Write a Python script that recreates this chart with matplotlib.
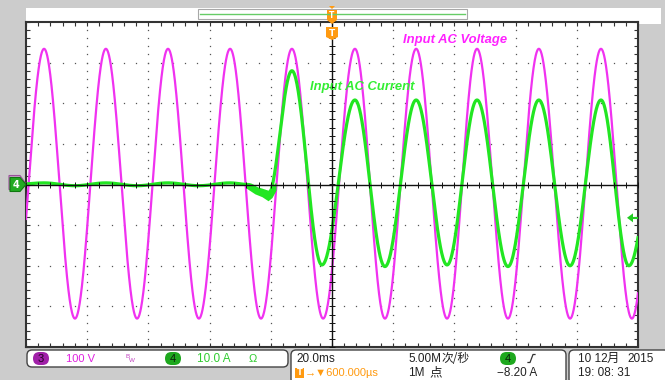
import numpy as np
import matplotlib.pyplot as plt
from matplotlib.patches import FancyBboxPatch, Polygon, Rectangle

# scope settings
ms_div = 20.0
volts_div = 100.0
amps_div = 10.0
trig_level = -8.20

# voltage trace: time of each peak / trough (ms) and value there (V)
volt_t = [-104.2, -94.1, -84.0, -73.9, -63.7, -53.6, -43.5, -33.3, -23.2, -13.1,
          -2.9, 7.5, 17.3, 27.5, 37.6, 47.4, 57.5, 67.6, 77.8, 87.9, 98.0, 108.1]
volt_v = [-330, 334, -330, 334, -330, 334, -330, 334, -330, 334,
          -330, 334, -330, 334, -330, 334, -330, 334, -330, 334, -330, 334]

# current trace: extremes (ms, A)
curr_t = [-104.2, -94.1, -84.0, -73.9, -63.7, -53.6, -43.5, -33.3, -27.5, -20.9,
          -13.1, -3.3, 7.5, 17.3, 27.5, 37.6, 47.4, 57.5, 67.6, 77.8, 87.9, 97.0, 108.1]
curr_a = [0.0, 0.4, -0.3, 0.4, -0.3, 0.4, -0.3, 0.4, 0.0, -2.6,
          28.0, -19.8, 20.8, -20.2, 20.8, -19.8, 20.8, -20.2, 20.8, -20.0, 20.8, -20.0, 20.8]

# noisy dip right before the load switches on (ms, A envelope)
dip_t = [-28.0, -25.2, -22.9, -20.9, -19.6, -18.3]
dip_hi = [0.1, -0.4, -0.9, -1.4, -0.4, 0.6]
dip_lo = [-0.9, -2.3, -3.0, -4.0, -3.2, -1.4]

MAG = '#f032f0'
GRN = '#22e622'
ORG = '#ff9a10'


def trace(tk, vk, t):
    # smooth half-cosine between the read extremes
    tk = np.asarray(tk, float)
    vk = np.asarray(vk, float)
    i = np.clip(np.searchsorted(tk, t) - 1, 0, len(tk) - 2)
    s = (t - tk[i]) / (tk[i + 1] - tk[i])
    return vk[i] + (vk[i + 1] - vk[i]) * (1 - np.cos(np.pi * s)) / 2


L, R, T, B = 26, 638, 22, 347


def px(t):
    return L + (t + 5 * ms_div) / (10 * ms_div) * (R - L)


def py(d):
    return (T + B) / 2 - d * (B - T) / 8


fig = plt.figure(figsize=(6.65, 3.8), dpi=100)
fig.patch.set_facecolor('#cccccc')

# pixel background layer
bg = fig.add_axes([0, 0, 1, 1])
bg.set_xlim(0, 665)
bg.set_ylim(380, 0)
bg.axis('off')
bg.add_patch(Rectangle((26, 8), 635, 16, fc='white', ec='none'))

# scope screen
ax = fig.add_axes([L / 665, 1 - B / 380, (R - L) / 665, (B - T) / 380])
ax.set_zorder(1)
ax.set_xlim(-5 * ms_div, 5 * ms_div)
ax.set_ylim(-4, 4)
ax.set_facecolor('white')
for sp in ax.spines.values():
    sp.set_color('#333333')
    sp.set_linewidth(1.5)
ax.set_xticks(np.arange(-100, 101, 20))
ax.set_xticks(np.arange(-100, 101, 4), minor=True)
ax.set_yticks(np.arange(-4, 5, 1))
ax.set_yticks(np.arange(-4, 4.01, 0.2), minor=True)
ax.tick_params(which='both', direction='in', length=3, width=0.8, color='#333333',
               top=True, right=True, labelbottom=False, labelleft=False)

# dotted graticule
ym = np.arange(-4, 4.01, 0.2)
xm = np.arange(-100, 100.1, 4)
for xg in range(-80, 81, 20):
    if xg != 0:
        ax.plot([xg] * len(ym), ym, ls='none', marker='s', ms=0.9, mew=0, color='#555555', zorder=1)
for yg in range(-3, 4):
    if yg != 0:
        ax.plot(xm, [yg] * len(xm), ls='none', marker='s', ms=0.9, mew=0, color='#555555', zorder=1)

t = np.linspace(-100, 100, 3000)
volts = trace(volt_t, volt_v, t)
amps = trace(curr_t, curr_a, t)
ax.plot(t, volts / volts_div, color=MAG, lw=1.6, zorder=3)
ax.plot(t, amps / amps_div, color=GRN, lw=2.3, zorder=4)
ax.fill_between(dip_t, np.array(dip_hi) / amps_div, np.array(dip_lo) / amps_div,
                color=GRN, lw=0, zorder=4)

# centre cross with small ticks
ax.axhline(0, color='#111111', lw=1.0, zorder=5)
ax.axvline(0, color='#111111', lw=1.0, zorder=5)
ax.plot(xm, np.zeros_like(xm), ls='none', marker='|', ms=4, mew=0.7, color='#111111', zorder=5)
ax.plot(np.zeros_like(ym), ym, ls='none', marker='_', ms=4, mew=0.7, color='#111111', zorder=5)

# overlay for markers and text
ov = fig.add_axes([0, 0, 1, 1])
ov.set_zorder(2)
ov.set_xlim(0, 665)
ov.set_ylim(380, 0)
ov.axis('off')
ov.patch.set_alpha(0)

ov.text(455.5, 40, 'Input AC Voltage', color='#ff22ff', fontsize=9.4, fontweight='bold',
        fontstyle='italic', family='Liberation Sans', ha='center', va='center')
ov.text(362, 87, 'Input AC Current', color='#33ee33', fontsize=9.4, fontweight='bold',
        fontstyle='italic', family='Liberation Sans', ha='center', va='center')

# trigger position bar at top
ov.add_patch(Rectangle((198, 9), 269, 10, fc='white', ec='#a8a8a8', lw=0.8))
ov.plot([200, 465], [14, 14], color='#66cc66', lw=1.0)
x0 = px(0)
ov.add_patch(Polygon([(x0 - 5, 10), (x0 + 5, 10), (x0 + 5, 20), (x0, 24), (x0 - 5, 20)],
                     closed=True, fc=ORG, ec='none'))
ov.add_patch(Polygon([(x0 - 3, 6), (x0 + 3, 6), (x0, 9)], closed=True, fc=ORG, ec='none'))
ov.text(x0, 15, 'T', color='white', fontsize=5.5, fontweight='bold', ha='center', va='center')
ov.add_patch(Polygon([(x0 - 6, 27), (x0 + 6, 27), (x0 + 6, 37), (x0, 40), (x0 - 6, 37)],
                     closed=True, fc=ORG, ec='none'))
ov.text(x0, 33, 'T', color='white', fontsize=6.5, fontweight='bold', ha='center', va='center')

# channel markers on the left
y4 = py(0)
ov.add_patch(Polygon([(9, y4 - 9), (20, y4 - 9), (25, y4 - 2), (20, y4 + 5), (9, y4 + 5)],
                     closed=True, fc='#c8a0c8', ec='#9a509a', lw=0.8))
ov.add_patch(Polygon([(10, y4 - 7), (20, y4 - 7), (26, y4), (20, y4 + 7), (10, y4 + 7)],
                     closed=True, fc='#22aa22', ec='#117711', lw=0.8))
ov.text(16, y4, '4', color='white', fontsize=7, fontweight='bold', ha='center', va='center')

# trigger level marker on the right
yt = py(trig_level / amps_div)
ov.add_patch(Polygon([(627, yt), (633, yt - 4.5), (633, yt + 4.5)], closed=True, fc='#22cc22', ec='none'))
ov.plot([633, 637], [yt, yt], color='#22cc22', lw=1.5)

# status bar
for (bx, by, bw, bh) in [(27, 350, 261, 17), (291, 350, 275, 34), (569, 350, 100, 34)]:
    bg.add_patch(FancyBboxPatch((bx, by), bw, bh, boxstyle='round,pad=0,rounding_size=5',
                                fc='white', ec='#444444', lw=1.0))

fam = ['Liberation Sans', 'Noto Sans CJK SC', 'DejaVu Sans']
cjk = ['Noto Sans CJK SC', 'DejaVu Sans']
r1, r2 = 358.5, 372.5


def pill(x, y, fc, txt, tc):
    bg.add_patch(FancyBboxPatch((x - 8, y - 6.5), 16, 13, boxstyle='round,pad=0,rounding_size=6.5',
                                fc=fc, ec='none'))
    ov.text(x, y, txt, color=tc, fontsize=8, family=fam, ha='center', va='center')


pill(41, r1, '#a020a8', '3', '#220022')
ov.text(66, r1, '100 V', color='#e020e0', fontsize=8, family=fam, va='center')
ov.text(126, r1 - 1.5, 'B', color='#c040c0', fontsize=4.5, family=fam, va='center')
ov.text(129, r1 + 1.5, 'W', color='#c040c0', fontsize=4.5, family=fam, va='center')
pill(173, r1, '#1ea81e', '4', '#0a200a')
ov.text(197, r1, '10.0 A', color='#30cc30', fontsize=8.5, family=fam, va='center')
ov.text(249, r1, 'Ω', color='#30cc30', fontsize=8, family=fam, va='center')

ov.text(296, r1, '20.0ms', color='#222222', fontsize=8.5, family=fam, va='center')
bg.add_patch(Rectangle((295, r2 - 5), 9, 10, fc=ORG, ec='none'))
ov.text(299.5, r2, 'T', color='white', fontsize=6, fontweight='bold', ha='center', va='center')
ov.text(305, r2, '→▼600.000µs', color=ORG, fontsize=8, family=fam, va='center')
ov.text(408, r1, '5.00M', color='#222222', fontsize=8.5, family=fam, va='center')
ov.text(442, r1, '次/秒', color='#222222', fontsize=8.5, family=cjk, va='center')
ov.text(408, r2, '1M', color='#222222', fontsize=8.5, family=fam, va='center')
ov.text(429, r2, '点', color='#222222', fontsize=9, family=cjk, va='center')
pill(508, r1, '#1ea81e', '4', '#0a200a')
ov.plot([528, 530, 533, 535], [r1 + 4, r1 + 4, r1 - 4, r1 - 4], color='#333333', lw=0.9)
ov.text(497, r2, '−8.20 A', color='#222222', fontsize=8.5, family=fam, va='center')

ov.text(578, r1, '10 12', color='#222222', fontsize=8.5, family=fam, va='center')
ov.text(607, r1, '月', color='#222222', fontsize=9, family=cjk, va='center')
ov.text(627, r1, '2015', color='#222222', fontsize=8.5, family=fam, va='center')
ov.text(578, r2, '19: 08: 31', color='#222222', fontsize=8.5, family=fam, va='center')

fig.savefig('out.png', dpi=100, facecolor=fig.get_facecolor())
